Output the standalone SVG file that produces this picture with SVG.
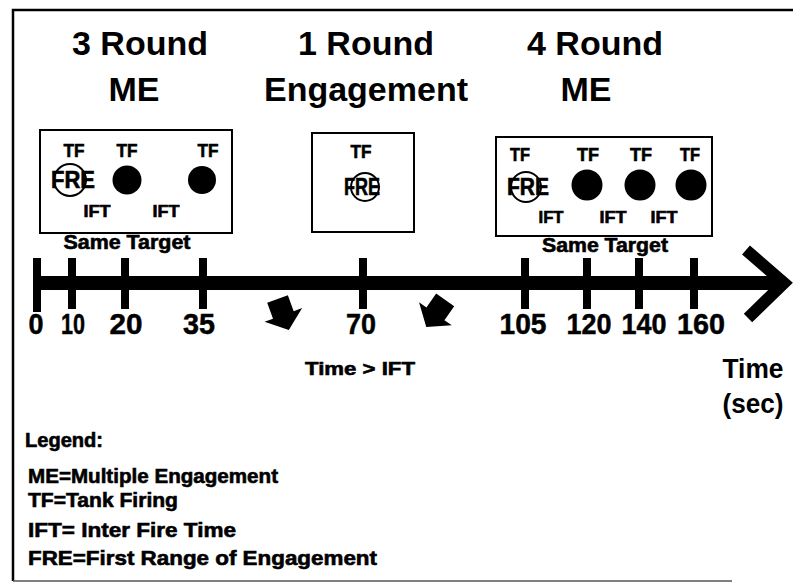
<svg xmlns="http://www.w3.org/2000/svg" width="794" height="582" viewBox="0 0 794 582">
<style>
text{font-family:"Liberation Sans",Arial,sans-serif;font-weight:bold;fill:#000}
.title{font-size:34px;text-anchor:middle}
.tf{font-size:19px;text-anchor:middle;stroke:#000;stroke-width:0.6}
.fre{font-size:23px;text-anchor:middle;stroke:#000;stroke-width:0.6}
.ift{font-size:17px;text-anchor:middle;stroke:#000;stroke-width:0.6}
.same{font-size:20px;text-anchor:middle;stroke:#000;stroke-width:0.6}
.num{font-size:30px;text-anchor:middle;stroke:#000;stroke-width:0.5}
.leg{font-size:20px;stroke:#000;stroke-width:0.6}
.box{fill:#fff;stroke:#000;stroke-width:2}
.ocirc{fill:none;stroke:#000;stroke-width:2}
.tick{stroke:#000;stroke-width:8}
</style>
<defs>
<path id="blk" d="M-11,-16 L11,-16 L11,1 L20,1 L0,17 L-20,1 L-11,1 Z" fill="#000"/>
</defs>
<rect width="794" height="582" fill="#fff"/>
<g id="frame" fill="none" stroke="#000">
<path d="M13,581 L13,10 L793,10" stroke-width="2.5"/>
<path d="M13,581 L732,581" stroke-width="1.5" stroke="#555"/>
</g>
<g id="title-3round">
<text class="title" x="140" y="55">3 Round</text>
<text class="title" x="134" y="101">ME</text>
</g>
<g id="title-1round">
<text class="title" x="366" y="55">1 Round</text>
<text class="title" x="366" y="101">Engagement</text>
</g>
<g id="title-4round">
<text class="title" x="595" y="55">4 Round</text>
<text class="title" x="586" y="101">ME</text>
</g>
<g id="box1">
<rect class="box" x="40" y="130" width="192" height="103"/>
<text class="tf" x="74" y="157" textLength="21" lengthAdjust="spacingAndGlyphs">TF</text>
<text class="tf" x="127" y="157" textLength="21" lengthAdjust="spacingAndGlyphs">TF</text>
<text class="tf" x="208" y="157" textLength="21" lengthAdjust="spacingAndGlyphs">TF</text>
<circle class="ocirc" cx="70" cy="180" r="16"/>
<text class="fre" x="73" y="188" textLength="44" lengthAdjust="spacingAndGlyphs">FRE</text>
<circle cx="127" cy="180" r="14.5"/>
<circle cx="202" cy="180" r="14"/>
<text class="ift" x="97" y="217" textLength="27" lengthAdjust="spacingAndGlyphs">IFT</text>
<text class="ift" x="166" y="217" textLength="27" lengthAdjust="spacingAndGlyphs">IFT</text>
<text class="same" x="127" y="249" textLength="127" lengthAdjust="spacingAndGlyphs">Same Target</text>
</g>
<g id="box2">
<rect class="box" x="312" y="133" width="102" height="99"/>
<text class="tf" x="361" y="158" textLength="21" lengthAdjust="spacingAndGlyphs">TF</text>
<circle class="ocirc" cx="365" cy="187" r="14"/>
<text class="fre" x="362" y="195" textLength="36" lengthAdjust="spacingAndGlyphs">FRE</text>
</g>
<g id="box3">
<rect class="box" x="496" y="137" width="216" height="99"/>
<text class="tf" x="520" y="161" textLength="20" lengthAdjust="spacingAndGlyphs">TF</text>
<text class="tf" x="588" y="161" textLength="22" lengthAdjust="spacingAndGlyphs">TF</text>
<text class="tf" x="641" y="161" textLength="22" lengthAdjust="spacingAndGlyphs">TF</text>
<text class="tf" x="690" y="161" textLength="20" lengthAdjust="spacingAndGlyphs">TF</text>
<circle class="ocirc" cx="526" cy="187" r="15"/>
<text class="fre" x="528" y="195" textLength="42" lengthAdjust="spacingAndGlyphs">FRE</text>
<circle cx="587" cy="185" r="15.5"/>
<circle cx="640" cy="185" r="15.5"/>
<circle cx="691" cy="185" r="15.5"/>
<text class="ift" x="551" y="223" textLength="25" lengthAdjust="spacingAndGlyphs">IFT</text>
<text class="ift" x="613" y="223" textLength="27" lengthAdjust="spacingAndGlyphs">IFT</text>
<text class="ift" x="664" y="223" textLength="27" lengthAdjust="spacingAndGlyphs">IFT</text>
<text class="same" x="605" y="252" textLength="126" lengthAdjust="spacingAndGlyphs">Same Target</text>
</g>
<g id="connectors">
<g id="timeline">
<rect x="33" y="276" width="750" height="14" fill="#000"/>
<polyline points="746,250 784,283 748,318" fill="none" stroke="#000" stroke-width="12" stroke-linejoin="miter"/>
<line class="tick" x1="37" y1="258" x2="37" y2="312"/>
<line class="tick" x1="72" y1="258" x2="72" y2="309"/>
<line class="tick" x1="125" y1="258" x2="125" y2="309"/>
<line class="tick" x1="203" y1="258" x2="203" y2="309"/>
<line class="tick" x1="363" y1="258" x2="363" y2="309"/>
<line class="tick" x1="525" y1="258" x2="525" y2="309"/>
<line class="tick" x1="587" y1="258" x2="587" y2="309"/>
<line class="tick" x1="639" y1="258" x2="639" y2="309"/>
<line class="tick" x1="694" y1="258" x2="694" y2="309"/>
</g>
<use href="#blk" transform="translate(283,314) rotate(-20)"/>
<use href="#blk" transform="translate(436,313) rotate(35)"/>
</g>
<g id="axis-labels">
<text class="num" x="36" y="334" textLength="15" lengthAdjust="spacingAndGlyphs">0</text>
<text class="num" x="73" y="334" textLength="24" lengthAdjust="spacingAndGlyphs">10</text>
<text class="num" x="126" y="334" textLength="33" lengthAdjust="spacingAndGlyphs">20</text>
<text class="num" x="199" y="334" textLength="32" lengthAdjust="spacingAndGlyphs">35</text>
<text class="num" x="361" y="334" textLength="30" lengthAdjust="spacingAndGlyphs">70</text>
<text class="num" x="523" y="334" textLength="47" lengthAdjust="spacingAndGlyphs">105</text>
<text class="num" x="589" y="334" textLength="45" lengthAdjust="spacingAndGlyphs">120</text>
<text class="num" x="644" y="334" textLength="45" lengthAdjust="spacingAndGlyphs">140</text>
<text class="num" x="701" y="334" textLength="48" lengthAdjust="spacingAndGlyphs">160</text>
<text x="360" y="375" font-size="19" text-anchor="middle" stroke="#000" stroke-width="0.6" textLength="110" lengthAdjust="spacingAndGlyphs">Time &gt; IFT</text>
<text x="753" y="378" font-size="28" text-anchor="middle" textLength="61" lengthAdjust="spacingAndGlyphs">Time</text>
<text x="753" y="413" font-size="28" text-anchor="middle" textLength="61" lengthAdjust="spacingAndGlyphs">(sec)</text>
</g>
<g id="legend">
<text class="leg" x="25" y="447" font-size="19" textLength="78" lengthAdjust="spacingAndGlyphs">Legend:</text>
<text class="leg" x="28" y="483" textLength="250" lengthAdjust="spacingAndGlyphs">ME=Multiple Engagement</text>
<text class="leg" x="28" y="507" textLength="150" lengthAdjust="spacingAndGlyphs">TF=Tank Firing</text>
<text class="leg" x="28" y="537" textLength="208" lengthAdjust="spacingAndGlyphs">IFT= Inter Fire Time</text>
<text class="leg" x="28" y="565" textLength="349" lengthAdjust="spacingAndGlyphs">FRE=First Range of Engagement</text>
</g>
</svg>
